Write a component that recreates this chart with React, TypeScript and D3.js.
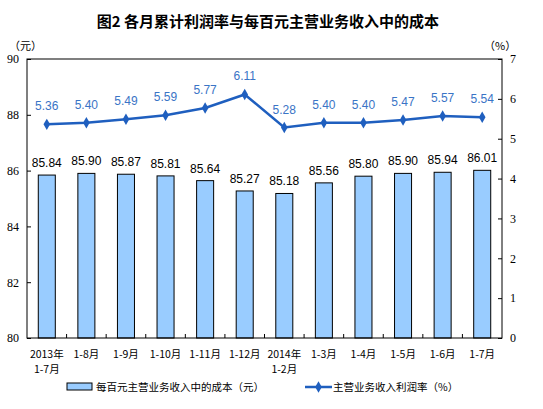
import React, { useEffect, useRef } from "react";
import * as d3 from "d3";

// 类别与数据
const categories = ["2013年\n1-7月", "1-8月", "1-9月", "1-10月", "1-11月", "1-12月", "2014年\n1-2月", "1-3月", "1-4月", "1-5月", "1-6月", "1-7月"];
const costPerHundred = [85.84, 85.9, 85.87, 85.81, 85.64, 85.27, 85.18, 85.56, 85.8, 85.9, 85.94, 86.01];
const profitRate = [5.36, 5.4, 5.49, 5.59, 5.77, 6.11, 5.28, 5.4, 5.4, 5.47, 5.57, 5.54];
const leftTicks = [80, 82, 84, 86, 88, 90];
const rightTicks = [0, 1, 2, 3, 4, 5, 6, 7];

const TITLE = "图2  各月累计利润率与每百元主营业务收入中的成本";
const CJK = "'Noto Sans CJK SC', sans-serif";
const NUM = "'Liberation Sans', Arial, sans-serif";
const BAR_FILL = "#99ccff";
const LINE_COLOR = "#1f5fbf";
const LABEL_BLUE = "#3a74c6";

const App: React.FC = () => {
    const svgRef = useRef<SVGSVGElement>(null);

    useEffect(() => {
        if (!svgRef.current) return;
        const W = 543, H = 409;
        const M = { top: 59, right: 41, bottom: 71, left: 27 };
        const iW = W - M.left - M.right;
        const iH = H - M.top - M.bottom;

        const svg = d3.select(svgRef.current);
        svg.selectAll("*").remove();
        svg.attr("width", W).attr("height", H).attr("viewBox", `0 0 ${W} ${H}`);

        svg.append("rect").attr("width", W).attr("height", H).attr("fill", "#fff");

        // 标题
        svg.append("text")
            .attr("x", 268).attr("y", 27)
            .attr("text-anchor", "middle")
            .attr("font-family", CJK)
            .attr("font-weight", "700")
            .attr("font-size", "15px")
            .attr("fill", "#000")
            .text(TITLE);

        // 单位
        svg.append("text").attr("x", 9).attr("y", 50)
            .attr("font-family", CJK).attr("font-size", "11px").text("（元）");
        svg.append("text").attr("x", 484).attr("y", 50)
            .attr("font-family", CJK).attr("font-size", "11px").text("（%）");

        const g = svg.append("g").attr("transform", `translate(${M.left},${M.top})`);

        const x = d3.scaleBand().domain(categories).range([0, iW]).paddingInner(0.57).paddingOuter(0.285);
        const xOuter = d3.scaleBand().domain(categories).range([0, iW]);
        const yL = d3.scaleLinear().domain([80, 90]).range([iH, 0]);
        const yR = d3.scaleLinear().domain([0, 7]).range([iH, 0]);

        // 柱
        g.selectAll(".bar")
            .data(costPerHundred)
            .enter()
            .append("rect")
            .attr("x", (_d, i) => x(categories[i])!)
            .attr("y", (d) => yL(d))
            .attr("width", x.bandwidth())
            .attr("height", (d) => iH - yL(d))
            .attr("fill", BAR_FILL)
            .attr("stroke", "#000")
            .attr("stroke-width", 1);

        g.selectAll(".bar-label")
            .data(costPerHundred)
            .enter()
            .append("text")
            .attr("x", (_d, i) => x(categories[i])! + x.bandwidth() / 2)
            .attr("y", (d) => yL(d) - 8)
            .attr("text-anchor", "middle")
            .attr("font-family", NUM)
            .attr("font-size", "12px")
            .attr("fill", "#000")
            .text((d) => d.toFixed(2));

        // 边框与坐标轴
        g.append("rect")
            .attr("width", iW).attr("height", iH)
            .attr("fill", "none").attr("stroke", "#000").attr("stroke-width", 1);

        const left = g.append("g")
            .call(d3.axisLeft(yL).tickValues(leftTicks).tickSizeInner(-4).tickSizeOuter(0).tickPadding(8).tickFormat(d3.format("d")));
        left.select(".domain").remove();
        left.selectAll("text").attr("font-family", "'Liberation Serif', serif").attr("font-size", "12px").attr("fill", "#000");

        const right = g.append("g").attr("transform", `translate(${iW},0)`)
            .call(d3.axisRight(yR).tickValues(rightTicks).tickSizeInner(-4).tickSizeOuter(0).tickPadding(8).tickFormat(d3.format("d")));
        right.select(".domain").remove();
        right.selectAll("text").attr("font-family", "'Liberation Serif', serif").attr("font-size", "12px").attr("fill", "#000");

        // 底部刻度（类别分隔）
        g.selectAll(".xtick")
            .data(categories.slice(1))
            .enter()
            .append("line")
            .attr("x1", (d) => xOuter(d)!)
            .attr("x2", (d) => xOuter(d)!)
            .attr("y1", iH).attr("y2", iH - 4)
            .attr("stroke", "#000");

        // 类别标签
        const xl = g.selectAll(".xlabel")
            .data(categories)
            .enter()
            .append("text")
            .attr("transform", (d) => `translate(${xOuter(d)! + xOuter.bandwidth() / 2},${iH + 20})`)
            .attr("text-anchor", "middle")
            .attr("font-family", CJK)
            .attr("font-size", "10.5px")
            .attr("fill", "#000");
        xl.each(function (d) {
            const lines = d.split("\n");
            const t = d3.select(this);
            lines.forEach((ln, i) => {
                t.append("tspan").attr("x", 0).attr("y", i * 15).text(ln);
            });
        });

        // 折线
        const line = d3.line<number>()
            .x((_d, i) => xOuter(categories[i])! + xOuter.bandwidth() / 2)
            .y((d) => yR(d));

        g.append("path")
            .datum(profitRate)
            .attr("fill", "none")
            .attr("stroke", LINE_COLOR)
            .attr("stroke-width", 2.5)
            .attr("d", line);

        const diamond = d3.symbol().type(d3.symbolDiamond).size(38);
        g.selectAll(".pt")
            .data(profitRate)
            .enter()
            .append("path")
            .attr("d", diamond)
            .attr("transform", (d, i) => `translate(${xOuter(categories[i])! + xOuter.bandwidth() / 2},${yR(d)})`)
            .attr("fill", LINE_COLOR);

        g.selectAll(".pt-label")
            .data(profitRate)
            .enter()
            .append("text")
            .attr("x", (_d, i) => xOuter(categories[i])! + xOuter.bandwidth() / 2)
            .attr("y", (d) => yR(d) - 14)
            .attr("text-anchor", "middle")
            .attr("font-family", NUM)
            .attr("font-size", "12px")
            .attr("fill", LABEL_BLUE)
            .text((d) => d.toFixed(2));

        // 图例
        const lg = svg.append("g").attr("transform", "translate(0,387)");
        lg.append("rect")
            .attr("x", 67).attr("y", -4).attr("width", 25).attr("height", 7)
            .attr("fill", BAR_FILL).attr("stroke", "#000");
        lg.append("text").attr("x", 96).attr("y", 4)
            .attr("font-family", CJK).attr("font-size", "10.5px").text("每百元主营业务收入中的成本（元）");
        lg.append("line")
            .attr("x1", 305).attr("x2", 332).attr("y1", 0).attr("y2", 0)
            .attr("stroke", LINE_COLOR).attr("stroke-width", 2.5);
        lg.append("path").attr("d", diamond).attr("transform", "translate(318.5,0)").attr("fill", LINE_COLOR);
        lg.append("text").attr("x", 333).attr("y", 4)
            .attr("font-family", CJK).attr("font-size", "10.5px").text("主营业务收入利润率（%）");
    }, []);

    return (
        <div style={{ position: "absolute", left: 0, top: 0 }}>
            <svg ref={svgRef} style={{ display: "block" }} />
        </div>
    );
};

export default App;
